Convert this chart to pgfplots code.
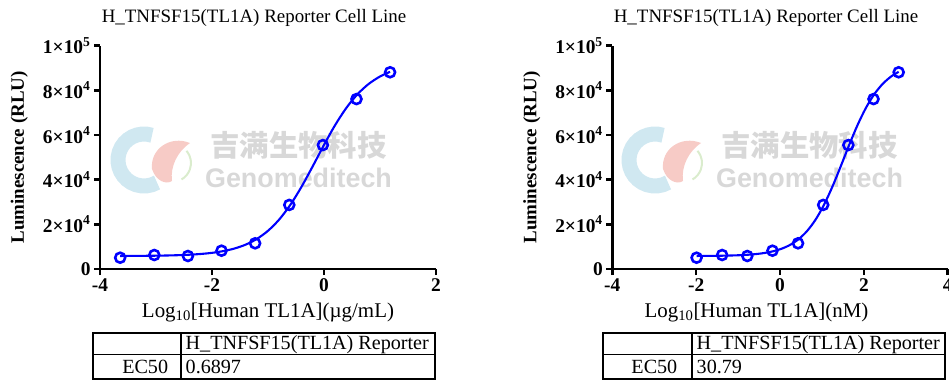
\documentclass[border=0pt]{standalone}
\usepackage{fontspec}
\setmainfont{Liberation Serif}
\newfontfamily\cjk{Noto Sans CJK SC}
\newfontfamily\wmsans{Liberation Sans}
\usepackage{pgfplots}
\usepackage{pgfplotstable}
\pgfplotsset{compat=1.18}
\definecolor{pblue}{RGB}{0,0,255}
\definecolor{wmgray}{RGB}{216,216,216}
\definecolor{wmblue}{RGB}{208,232,241}
\definecolor{wmpink}{RGB}{247,203,198}
\definecolor{wmgreen}{RGB}{218,236,205}

\pgfplotstableread{
x y
-3.64 5060
-3.03 6270
-2.43 5820
-1.83 8200
-1.23 11500
-0.62 28700
-0.02 55500
0.58 76100
1.18 88100
}\ptsA

\pgfplotstableread{
x y
-3.64 5840
-3.4 5868
-3.2 5906
-3.0 5963
-2.8 6053
-2.6 6192
-2.4 6404
-2.2 6732
-2.0 7235
-1.8 8003
-1.6 9164
-1.4 10903
-1.2 13456
-1.0 17113
-0.8 22160
-0.6 28771
-0.4 36887
-0.2 46068
0.0 55572
0.2 64493
0.4 72182
0.6 78316
0.8 82920
1.0 86212
1.18 88302
}\fitA

\pgfplotstableread{
x y
-1.99 5060
-1.38 6270
-0.78 5820
-0.18 8200
0.43 11500
1.03 28700
1.63 55500
2.23 76100
2.83 88100
}\ptsB

\pgfplotstableread{
x y
-1.99 5840
-1.75 5868
-1.55 5906
-1.35 5963
-1.15 6053
-0.95 6192
-0.75 6404
-0.55 6732
-0.35 7235
-0.15 8003
0.05 9164
0.25 10903
0.45 13456
0.65 17113
0.85 22160
1.05 28771
1.25 36887
1.45 46068
1.65 55572
1.85 64493
2.05 72182
2.25 78316
2.45 82920
2.65 86212
2.83 88302
}\fitB

\pgfplotsset{
  dose/.style={
    scale only axis, height=223.3bp,
    ymin=0, ymax=100000,
    axis lines=left,
    axis line style={line width=2.7bp,-},
    tick style={black, line width=2.5bp},
    tick align=outside, major tick length=6bp,
    ytick={0,20000,40000,60000,80000,100000},
    yticklabels={0,2×10\textsuperscript{4},4×10\textsuperscript{4},6×10\textsuperscript{4},8×10\textsuperscript{4},1×10\textsuperscript{5}},
    scaled y ticks=false,
    tick label style={font=\fontsize{19.5}{21}\selectfont\bfseries},
    ylabel={Luminescence (RLU)},
    ylabel style={at={(rel axis cs:-0.240,0.5)}, anchor=center, font=\fontsize{19}{22}\selectfont\bfseries},
    xlabel style={anchor=center, font=\fontsize{21}{24}\selectfont},
    clip=false,
  },
  fitline/.style={pblue, line width=2.1bp, smooth, no marks},
  pts/.style={only marks, mark=o, mark size=5bp, mark options={pblue, line width=2.6bp}},
}

\newcommand\watermark[1]{%
  \begin{scope}[xshift=#1]
    \draw[wmblue, line width=15bp] (144,221) ++(72:26) arc[start angle=72, end angle=300, radius=26];
    \fill[wmpink] (190,238) .. controls (170,246) and (150,232) .. (152,212) .. controls (156,200) and (166,196) .. (172,200) .. controls (170,215) and (178,230) .. (190,238) -- cycle;
    \draw[wmgreen, line width=2bp] (172,218) ++(40:19) arc[start angle=40, end angle=-60, radius=19];
    \node[wmgray, font=\cjk\fontsize{29.5}{32}\selectfont\bfseries] at (298.5,236) {吉满生物科技};
    \node[wmgray, font=\wmsans\fontsize{27}{30}\selectfont\bfseries] at (298.5,203) {Genomeditech};
  \end{scope}}

\begin{document}
\begin{tikzpicture}[x=1bp,y=1bp]
\useasboundingbox (0,0) rectangle (949,381);
\watermark{0bp}
\watermark{511bp}

% titles
\node[anchor=base, font=\fontsize{19}{22}\selectfont] at (254,358.3) {H\_TNFSF15(TL1A) Reporter Cell Line};
\node[anchor=base, font=\fontsize{19}{22}\selectfont] at (766,358.3) {H\_TNFSF15(TL1A) Reporter Cell Line};

\begin{axis}[dose, at={(100bp,112bp)}, anchor=south west, width=336bp,
  xmin=-4, xmax=2, xtick={-4,-2,0,2}, xticklabels={-4,-2,0,2},
  xlabel={Log\textsubscript{10}[Human TL1A](µg/mL)},
  xlabel style={at={(rel axis cs:0.5,-0.195)}}]
  \addplot[fitline] table[x=x,y=y] {\fitA};
  \addplot[pts] table[x=x,y=y] {\ptsA};
\end{axis}

\begin{axis}[dose, at={(612.3bp,112bp)}, anchor=south west, width=335.4bp,
  xmin=-4, xmax=4, xtick={-4,-2,0,2,4}, xticklabels={-4,-2,0,2,4},
  xlabel={Log\textsubscript{10}[Human TL1A](nM)},
  xlabel style={at={(rel axis cs:0.43,-0.195)}}]
  \addplot[fitline] table[x=x,y=y] {\fitB};
  \addplot[pts] table[x=x,y=y] {\ptsB};
\end{axis}

% tables
\begin{scope}[font=\fontsize{20.2}{23}\selectfont]
  \draw[line width=2bp] (92.7,2) rectangle (435,48.3);
  \draw[line width=1.6bp] (92.7,26.7) -- (435,26.7) (180.7,2) -- (180.7,48.3);
  \node[anchor=base west, inner sep=0] at (185.5,31.2) {H\_TNFSF15(TL1A) Reporter};
  \node[anchor=base east, inner sep=0] at (168.3,8) {EC50};
  \node[anchor=base west, inner sep=0] at (185.5,8) {0.6897};

  \draw[line width=2bp] (602.7,2) rectangle (945,48.3);
  \draw[line width=1.6bp] (602.7,26.7) -- (945,26.7) (691.7,2) -- (691.7,48.3);
  \node[anchor=base west, inner sep=0] at (696.5,31.2) {H\_TNFSF15(TL1A) Reporter};
  \node[anchor=base east, inner sep=0] at (677.5,8) {EC50};
  \node[anchor=base west, inner sep=0] at (696.5,8) {30.79};
\end{scope}
\end{tikzpicture}
\end{document}
